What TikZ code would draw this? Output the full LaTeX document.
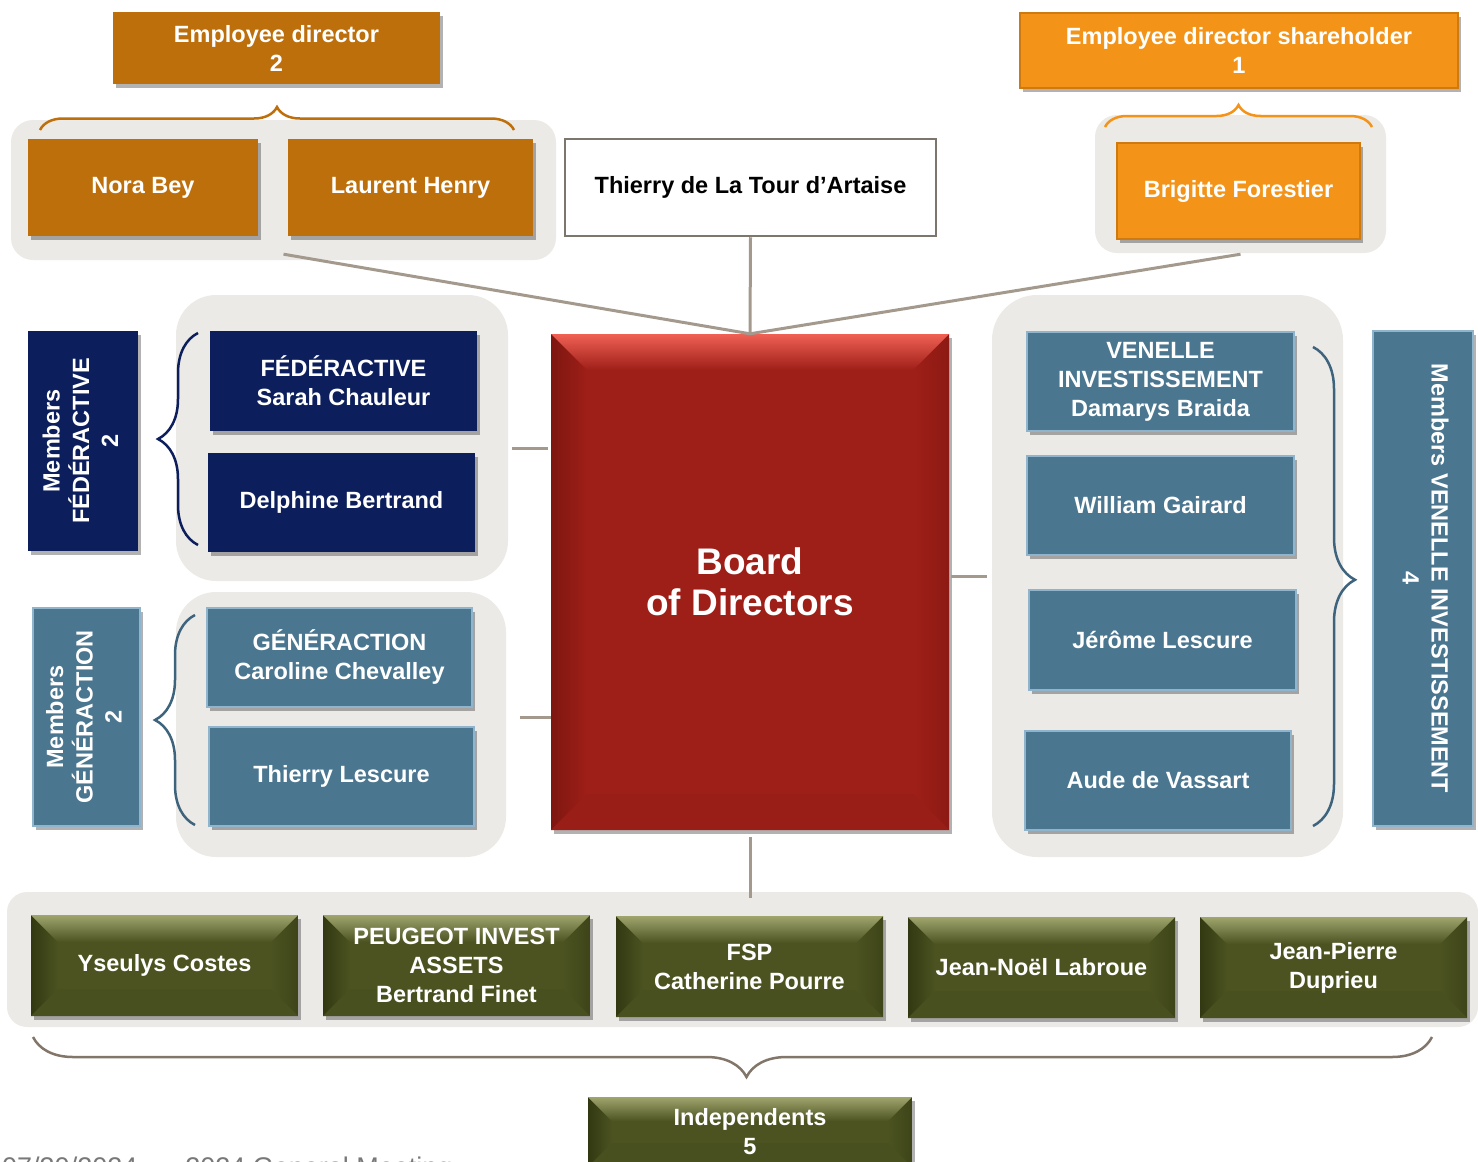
\documentclass[tikz,border=0pt]{standalone}
\usepackage{fontspec}
\setmainfont{Liberation Sans}
\usetikzlibrary{positioning}
\usetikzlibrary{shadows}
\usetikzlibrary{decorations.pathreplacing}

\definecolor{edbrown}{RGB}{189,111,12}
\definecolor{edorange}{RGB}{243,148,25}
\definecolor{edorangeline}{RGB}{207,122,14}
\definecolor{fednavy}{RGB}{12,31,92}
\definecolor{gensteel}{RGB}{74,118,144}
\definecolor{gensteelline}{RGB}{143,180,203}
\definecolor{genbrace}{RGB}{62,100,125}
\definecolor{boardred}{RGB}{158,31,24}
\definecolor{boardredtop}{RGB}{240,96,84}
\definecolor{boardredside}{RGB}{126,22,16}
\definecolor{indolive}{RGB}{76,83,33}
\definecolor{indolivetop}{RGB}{160,165,110}
\definecolor{indoliveside}{RGB}{50,56,17}
\definecolor{panelgrey}{RGB}{236,234,231}
\definecolor{linkgrey}{RGB}{163,154,141}
\definecolor{bracegrey}{RGB}{130,118,106}
\definecolor{thierryline}{RGB}{125,118,108}
\definecolor{footgrey}{RGB}{120,120,120}

\newcommand{\boxfont}{\fontsize{23.5}{29}\selectfont\bfseries}
\newcommand{\boardfont}{\fontsize{37}{41}\selectfont\bfseries}
\newcommand{\membertext}[2]{\rotatebox{#1}{\begin{tabular}{@{}c@{}}#2\end{tabular}}}

% bevelled face: depth, top colour, side colour, base colour
\tikzset{
  bevel/.style n args={4}{path picture={
    \coordinate (bv-nw) at (path picture bounding box.north west);
    \coordinate (bv-ne) at (path picture bounding box.north east);
    \coordinate (bv-sw) at (path picture bounding box.south west);
    \coordinate (bv-se) at (path picture bounding box.south east);
    \shade[left color=#3,right color=#4]
      (bv-nw) -- ([xshift=#1,yshift=-#1]bv-nw) -- ([xshift=#1,yshift=#1]bv-sw) -- (bv-sw) -- cycle;
    \shade[left color=#4,right color=#3!55!#4]
      (bv-ne) -- ([xshift=-#1,yshift=-#1]bv-ne) -- ([xshift=-#1,yshift=#1]bv-se) -- (bv-se) -- cycle;
    \shade[top color=#2,bottom color=#4]
      (bv-nw) -- (bv-ne) -- ([xshift=-#1,yshift=-#1]bv-ne) -- ([xshift=#1,yshift=-#1]bv-nw) -- cycle;
    \fill[#4!96!black]
      (bv-sw) -- (bv-se) -- ([xshift=-#1,yshift=#1]bv-se) -- ([xshift=#1,yshift=#1]bv-sw) -- cycle;
  }}
}

\begin{document}
\begin{tikzpicture}[x=1pt,y=-1pt,
  box/.style={rectangle,inner sep=0pt,align=center,text=white,font=\boxfont,
    minimum width=267pt,minimum height=99pt,
    drop shadow={shadow xshift=3pt,shadow yshift=-4pt,fill=black,opacity=.3}},
  edbox/.style={box,fill=edbrown},
  edsbox/.style={box,fill=edorange,draw=edorangeline,line width=2.5pt},
  fedbox/.style={box,fill=fednavy},
  genbox/.style={box,fill=gensteel,draw=gensteelline,line width=2.5pt},
  indbox/.style={box,minimum height=101pt,fill=indolive,bevel={27pt}{indolivetop}{indoliveside}{indolive}},
  panel/.style={rectangle,fill=panelgrey,rounded corners=#1,inner sep=0pt},
  link/.style={draw=linkgrey,line width=3pt},
  curly/.style={decorate,decoration={brace,amplitude=#1},line width=2.5pt}]

  \useasboundingbox (0,0) rectangle (1478,1162);
  \clip (0,0) rectangle (1478,1162);

  % panels
  \node[panel=22pt,minimum width=545pt,minimum height=140pt] (edpanel)  at (283.5,190) {};
  \node[panel=22pt,minimum width=291pt,minimum height=138pt] (edspanel) at (1240.5,184) {};
  \node[panel=40pt,minimum width=332pt,minimum height=286pt] (fedpanel) at (342,438) {};
  \node[panel=40pt,minimum width=330pt,minimum height=265pt] (genpanel) at (341,724.5) {};
  \node[panel=45pt,minimum width=351pt,minimum height=562pt] (venpanel) at (1167.5,576) {};
  \node[panel=20pt,minimum width=1471pt,minimum height=135pt] (indpanel) at (742.5,959.5) {};

  % employee directors
  \node[edbox,minimum width=327pt,minimum height=72pt] (edhead) at (276.5,48) {Employee director\\2};
  \node[edbox,minimum width=230pt,minimum height=97pt] (nora) at (143,187.5) {Nora Bey};
  \node[edbox,minimum width=245pt,minimum height=97pt] (laurent) at (410.5,187.5) {Laurent Henry};
  \node[edsbox,minimum width=438pt,minimum height=75pt] (edshead) at (1239,50.5) {Employee director shareholder\\1};
  \node[edsbox,minimum width=243pt,minimum height=96pt] (brigitte) at (1238.5,191) {Brigitte Forestier};
  \node[rectangle,inner sep=0pt,font=\boxfont,fill=white,draw=thierryline,line width=2.5pt,
    minimum width=371pt,minimum height=97pt] (thierry) at (750.5,187.5) {Thierry de La Tour d’Artaise};

  % board
  \node[box,minimum width=398pt,minimum height=496pt,font=\boardfont,fill=boardred,
    bevel={36pt}{boardredtop}{boardredside}{boardred}] (board) at (750,582) {Board\\of Directors};

  % FEDERACTIVE
  \node[fedbox,minimum width=110pt,minimum height=220pt] (fedmembers) at (83,441) {\membertext{90}{Members\\FÉDÉRACTIVE\\2}};
  \node[fedbox,minimum height=100pt] (sarah) at (343.5,381) {FÉDÉRACTIVE\\Sarah Chauleur};
  \node[fedbox] (delphine) [below=121pt of sarah.center,anchor=center,xshift=-2pt] {Delphine Bertrand};

  % GENERACTION
  \node[genbox,minimum width=107pt,minimum height=218pt] (genmembers) at (86.5,717) {\membertext{90}{Members\\GÉNÉRACTION\\2}};
  \node[genbox,minimum width=265pt] (caroline) at (339.5,657.5) {GÉNÉRACTION\\Caroline Chevalley};
  \node[genbox,minimum width=265pt] (thierryl) [below=119pt of caroline.center,anchor=center,xshift=2pt] {Thierry Lescure};

  % VENELLE INVESTISSEMENT
  \node[genbox] (damarys) at (1160.5,381.5) {VENELLE\\INVESTISSEMENT\\Damarys Braida};
  \node[genbox] (william) [below=124pt of damarys.center,anchor=center] {William Gairard};
  \node[genbox,minimum height=100pt] (jerome) at (1162.5,640) {Jérôme Lescure};
  \node[genbox,minimum width=266pt] (aude) at (1158,780.5) {Aude de Vassart};
  \node[genbox,minimum width=100pt,minimum height=495pt] (venmembers) at (1423,578.5) {\membertext{-90}{Members VENELLE INVESTISSEMENT\\4}};

  % independents
  \node[indbox] (yseulys) at (164.5,965.5) {Yseulys Costes};
  \node[indbox] (peugeot) [right=292pt of yseulys.center,anchor=center] {PEUGEOT INVEST\\ASSETS\\Bertrand Finet};
  \node[indbox] (fsp)     [right=293pt of peugeot.center,anchor=center,yshift=-1pt] {FSP\\Catherine Pourre};
  \node[indbox] (labroue) [right=292pt of fsp.center,anchor=center,yshift=-1pt] {Jean-Noël Labroue};
  \node[indbox] (duprieu) [right=292pt of labroue.center,anchor=center] {Jean-Pierre\\Duprieu};
  \node[indbox,minimum width=324pt,minimum height=70pt,bevel={24pt}{indolivetop}{indoliveside}{indolive}] (independents) at (750,1132) {Independents\\5};

  % braces
  \draw[curly=23pt,edbrown] (40,130) -- (514,130);
  \draw[curly=22pt,edorange] (1105,127) -- (1372,127);
  \draw[curly=40pt,fednavy] (198,545) -- (198,333);
  \draw[curly=40pt,genbrace] (195,825) -- (195,615);
  \draw[curly=42pt,genbrace,decoration={aspect=0.486}] (1313,347) -- (1313,826);
  \draw[curly=40pt,bracegrey,decoration={aspect=0.49}] (1432,1037) -- (33,1037);

  % links to the board
  \coordinate (fedlink) at ([yshift=-10pt]fedpanel.east);
  \coordinate (genlink) at ([yshift=7.5pt]genpanel.east);
  \draw[link] ([yshift=6pt]edpanel.south) -- (board.north);
  \draw[link] (thierry.south) -- (board.north);
  \draw[link] ([yshift=-1pt]edspanel.south) -- (board.north);
  \draw[link,shorten <=4pt,shorten >=3pt] (fedlink) -- (fedlink -| board.west);
  \draw[link,shorten <=14pt] (genlink) -- (genlink -| board.west);
  \draw[link,shorten <=2pt,shorten >=5pt] (venpanel.west -| board.east) -- (venpanel.west);
  \draw[link,shorten <=7pt,shorten >=-6pt] (board.south) -- (board.south |- indpanel.north);

  \node[anchor=north west,inner sep=0pt,text=footgrey,font=\fontsize{27}{32}\selectfont] (footer) at (2,1157)
    {07/30/2024\hspace{48pt}2024 General Meeting};
\end{tikzpicture}
\end{document}
